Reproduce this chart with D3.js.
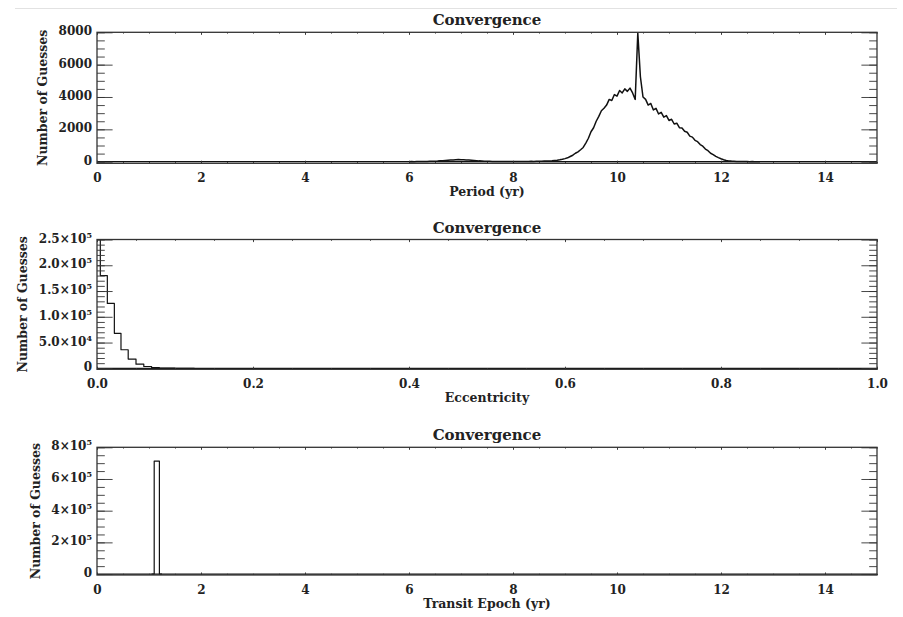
<!DOCTYPE html>
<html>
<head>
<meta charset="utf-8">
<script src="https://cdn.jsdelivr.net/npm/d3@7"></script>
<style>
  body { margin: 0; background: #fff; }
  svg text { font-family: "DejaVu Serif", serif; font-weight: bold; fill: #222; }
</style>
</head>
<body>
<div id="chart"></div>
<script>
// period histogram (yr), bins of 0.05 starting at 6.0
var periodStart = 6.0, periodStep = 0.05;
var periodCounts = [
    0, 5, 0, 10, 5, 10, 15, 10, 20, 25,
    30, 40, 55, 60, 80, 95, 110, 100, 120, 130,
    115, 125, 110, 100, 90, 80, 65, 50, 45, 30,
    25, 20, 15, 15, 10, 10, 5, 10, 5, 5,
    10, 5, 10, 10, 15, 10, 15, 20, 15, 20,
    25, 30, 35, 40, 50, 60, 80, 95, 120, 150,
    190, 240, 320, 400, 520, 610, 740, 880, 1150, 1450,
    1850, 2100, 2500, 2800, 3150, 3300, 3500, 3850, 3780, 4150,
    4050, 4400, 4250, 4500, 4350, 4550, 4250, 3850, 7950, 5250,
    4000, 3850, 3500, 3600, 3200, 3300, 2950, 3050, 2750, 2850,
    2550, 2620, 2330, 2380, 2100, 2080, 1880, 1820, 1580, 1520,
    1320, 1240, 1060, 960, 780, 680, 520, 440, 330, 250,
    180, 120, 70, 50, 35, 25, 15, 10, 10, 5,
    5, 0, 5, 0, 0, 0
];

// eccentricity histogram
var eccCenters = [0, 0.0085, 0.018, 0.0265, 0.035, 0.045, 0.055, 0.065, 0.075, 0.085, 0.095, 0.105, 0.115, 0.125];
var eccCounts = [275000, 180000, 126000, 68000, 36000, 18000, 8000, 3500, 1500, 600, 200, 100, 0, 0];

// transit epoch histogram
var epochCenters = [1.05, 1.15, 1.25];
var epochCounts = [0, 713000, 0];

var periodTicks = [0, 2, 4, 6, 8, 10, 12, 14];
var periodYTicks = [0, 2000, 4000, 6000, 8000];
var periodYLabels = ["0", "2000", "4000", "6000", "8000"];

var eccTicks = [0, 0.2, 0.4, 0.6, 0.8, 1.0];
var eccYTicks = [0, 50000, 100000, 150000, 200000, 250000];
var eccYLabels = ["0", "5.0×10^4", "1.0×10^5", "1.5×10^5", "2.0×10^5", "2.5×10^5"];

var epochYTicks = [0, 200000, 400000, 600000, 800000];
var epochYLabels = ["0", "2×10^5", "4×10^5", "6×10^5", "8×10^5"];

var width = 903, height = 617;
var left = 97, right = 877;

var svg = d3.select("#chart").append("svg")
    .attr("width", width)
    .attr("height", height);

// faint line at top of the page
svg.append("line")
    .attr("x1", 15).attr("x2", 897)
    .attr("y1", 8.5).attr("y2", 8.5)
    .attr("stroke", "#e2e2e2");

var panels = [
    {
        top: 32.3, bottom: 163.3, xDomain: [0, 15], yDomain: [-100, 8000],
        xTicks: periodTicks, xMinor: d3.range(0, 15.01, 0.5), xFormat: d3.format("d"),
        yTicks: periodYTicks, yLabels: periodYLabels, yMinor: d3.range(0, 8001, 500),
        xLabel: "Period (yr)", yLabelX: 42,
        xs: periodCounts.map(function(c, i) { return periodStart + i * periodStep; }),
        ys: periodCounts, width: 1.5, curve: d3.curveLinear
    },
    {
        top: 239.5, bottom: 369.3, xDomain: [0, 1], yDomain: [-1900, 250000],
        xTicks: eccTicks, xMinor: d3.range(0, 1.001, 0.05), xFormat: d3.format(".1f"),
        yTicks: eccYTicks, yLabels: eccYLabels, yMinor: d3.range(0, 250001, 10000),
        xLabel: "Eccentricity", yLabelX: 22,
        xs: eccCenters, ys: eccCounts, width: 1.2, curve: d3.curveStep
    },
    {
        top: 447.3, bottom: 575, xDomain: [0, 15], yDomain: [-6000, 800000],
        xTicks: periodTicks, xMinor: d3.range(0, 15.01, 0.5), xFormat: d3.format("d"),
        yTicks: epochYTicks, yLabels: epochYLabels, yMinor: d3.range(0, 800001, 50000),
        xLabel: "Transit Epoch (yr)", yLabelX: 35,
        xs: epochCenters, ys: epochCounts, width: 1.2, curve: d3.curveStep
    }
];

panels.forEach(function(p, k) {
    var x = d3.scaleLinear().domain(p.xDomain).range([left, right]);
    var y = d3.scaleLinear().domain(p.yDomain).range([p.bottom, p.top]);
    var h = p.bottom - p.top;
    var yLen = 0.02 * (right - left), xLen = 0.02 * h;

    var g = svg.append("g");

    svg.append("clipPath").attr("id", "clip" + k)
        .append("rect")
        .attr("x", left).attr("y", p.top)
        .attr("width", right - left).attr("height", h);

    // histogram
    var pts = p.xs.map(function(v, i) { return [v, p.ys[i]]; });
    var line = d3.line()
        .x(function(d) { return x(d[0]); })
        .y(function(d) { return y(d[1]); });

    g.append("path")
        .attr("clip-path", "url(#clip" + k + ")")
        .attr("d", line([[p.xDomain[0], 0], [p.xDomain[1], 0]]))
        .attr("fill", "none").attr("stroke", "#111").attr("stroke-width", 1.2);

    g.append("path")
        .attr("clip-path", "url(#clip" + k + ")")
        .attr("d", line.curve(p.curve)(pts))
        .attr("fill", "none")
        .attr("stroke", "#111")
        .attr("stroke-width", p.width)
        .attr("stroke-linejoin", "round");

    // axes, ticks pointing inward
    var yAxis = d3.axisLeft(y).tickValues(p.yTicks).tickSizeInner(-yLen).tickSizeOuter(0).tickFormat("");
    var yMinor = d3.axisLeft(y).tickValues(p.yMinor).tickSizeInner(-yLen / 2).tickSizeOuter(0).tickFormat("");
    var yRight = d3.axisRight(y).tickValues(p.yTicks).tickSizeInner(-yLen).tickSizeOuter(0).tickFormat("");
    var yRightMinor = d3.axisRight(y).tickValues(p.yMinor).tickSizeInner(-yLen / 2).tickSizeOuter(0).tickFormat("");
    var xAxis = d3.axisBottom(x).tickValues(p.xTicks).tickSizeInner(-xLen).tickSizeOuter(0).tickPadding(10).tickFormat(p.xFormat);
    var xMinor = d3.axisBottom(x).tickValues(p.xMinor).tickSizeInner(-xLen / 2).tickSizeOuter(0).tickFormat("");
    var xTop = d3.axisTop(x).tickValues(p.xTicks).tickSizeInner(-xLen).tickSizeOuter(0).tickFormat("");
    var xTopMinor = d3.axisTop(x).tickValues(p.xMinor).tickSizeInner(-xLen / 2).tickSizeOuter(0).tickFormat("");

    var axes = [
        [yAxis, "translate(" + left + ",0)"],
        [yMinor, "translate(" + left + ",0)"],
        [yRight, "translate(" + right + ",0)"],
        [yRightMinor, "translate(" + right + ",0)"],
        [xAxis, "translate(0," + p.bottom + ")"],
        [xMinor, "translate(0," + p.bottom + ")"],
        [xTop, "translate(0," + p.top + ")"],
        [xTopMinor, "translate(0," + p.top + ")"]
    ];
    axes.forEach(function(a) {
        var ax = g.append("g").attr("transform", a[1]).call(a[0]);
        ax.select(".domain").remove();
        ax.selectAll("line").attr("stroke", "#333").attr("stroke-width", 0.9);
        ax.selectAll("text").attr("font-size", 12).attr("fill", "#222")
            .attr("font-family", "DejaVu Serif").attr("font-weight", "bold");
    });

    // y tick labels with superscript exponents
    p.yTicks.forEach(function(v, i) {
        var parts = p.yLabels[i].split("^");
        var t = g.append("text")
            .attr("x", left - 5)
            .attr("y", y(v) + 3)
            .attr("text-anchor", "end")
            .attr("font-size", 12);
        t.append("tspan").text(parts[0]);
        if (parts.length > 1) {
            t.append("tspan").attr("dy", -5).attr("font-size", 8).text(parts[1]);
        }
    });

    // frame
    g.append("rect")
        .attr("x", left).attr("y", p.top)
        .attr("width", right - left).attr("height", h)
        .attr("fill", "none").attr("stroke", "#333").attr("stroke-width", 1.3);

    // title and labels
    g.append("text")
        .attr("x", (left + right) / 2).attr("y", p.top - 7)
        .attr("text-anchor", "middle").attr("font-size", 15)
        .text("Convergence");

    g.append("text")
        .attr("x", (left + right) / 2).attr("y", p.bottom + 33)
        .attr("text-anchor", "middle").attr("font-size", 12.5)
        .text(p.xLabel);

    g.append("text")
        .attr("transform", "translate(" + p.yLabelX + "," + (p.top + p.bottom) / 2 + ") rotate(-90)")
        .attr("text-anchor", "middle").attr("dominant-baseline", "central")
        .attr("font-size", 12.5)
        .text("Number of Guesses");
});
</script>
</body>
</html>
